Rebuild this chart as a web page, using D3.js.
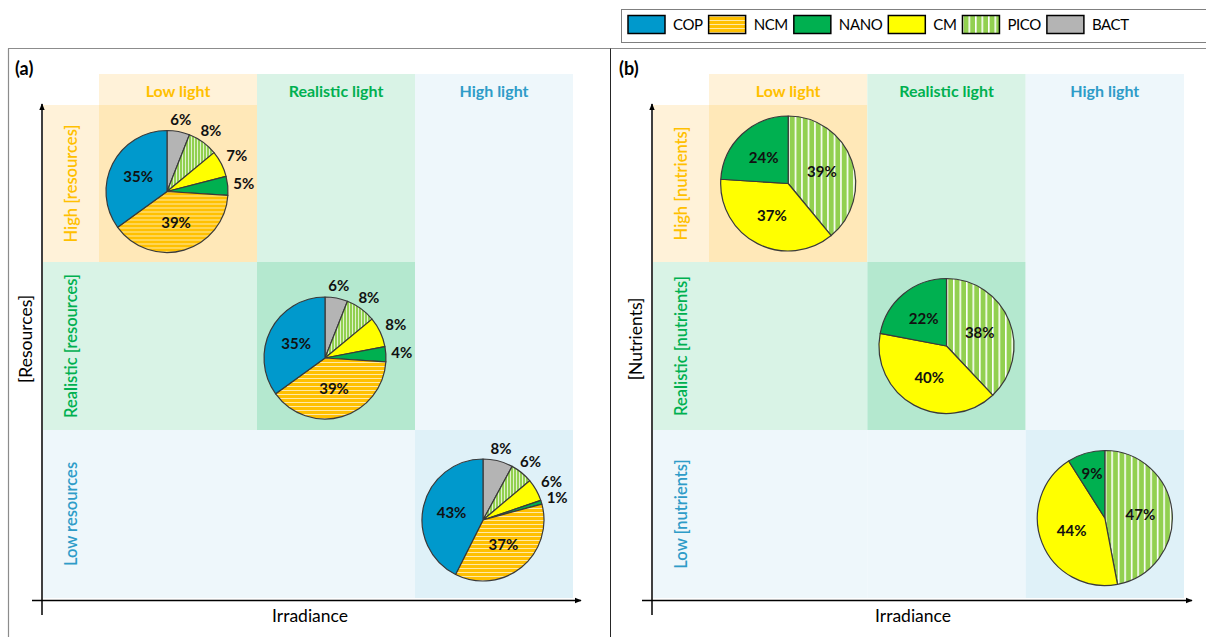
<!DOCTYPE html>
<html>
<head>
<meta charset="utf-8">
<script src="https://cdn.jsdelivr.net/npm/d3@7"></script>
<style>
  body { margin: 0; background: #fff; }
  text { font-family: Lato, "Open Sans", sans-serif; }
</style>
</head>
<body>
<svg id="chart" width="1206" height="637"></svg>
<script>
// ---- data ----
const groups = ["COP", "NCM", "NANO", "CM", "PICO", "BACT"];
const lightLevels = ["Low light", "Realistic light", "High light"];
const resourceLabels = ["High [resources]", "Realistic [resources]", "Low resources"];
const nutrientLabels = ["High [nutrients]", "Realistic [nutrients]", "Low [nutrients]"];

// slices listed clockwise from 12 o'clock
const sliceOrderA = ["BACT", "PICO", "CM", "NANO", "NCM", "COP"];
const resHigh = [6, 8, 7, 5, 39, 35];
const resRealistic = [6, 8, 8, 4, 39, 35];
const resLow = [8, 6, 6, 1, 37, 43];

const sliceOrderB = ["PICO", "CM", "NANO"];
const nutHigh = [39, 37, 24];
const nutRealistic = [38, 40, 22];
const nutLow = [47, 44, 9];

// ---- styling ----
const tint = [
  { light: "#fff2d9", dark: "#ffe8b8", text: "#ffc000" },
  { light: "#d9f3e6", dark: "#b4e8cf", text: "#00b050" },
  { light: "#eef7fb", dark: "#dff1f8", text: "#2e9cc8" }
];

const svg = d3.select("#chart");
const defs = svg.append("defs");

function stripePattern(id, base, w, h, vertical, lineW, op) {
  const p = defs.append("pattern").attr("id", id)
    .attr("patternUnits", "userSpaceOnUse").attr("width", w).attr("height", h);
  p.append("rect").attr("width", w).attr("height", h).attr("fill", base);
  if (vertical) {
    p.append("rect").attr("x", 0).attr("y", 0).attr("width", lineW).attr("height", h)
      .attr("fill", "#fff").attr("opacity", op);
  } else {
    p.append("rect").attr("x", 0).attr("y", 0).attr("width", w).attr("height", lineW)
      .attr("fill", "#fff").attr("opacity", op);
  }
}
stripePattern("ncm", "#ffc000", 4, 4, false, 1, 0.65);
stripePattern("picoFine", "#92d050", 3, 3, true, 1, 0.7);
stripePattern("picoWide", "#92d050", 6.5, 6.5, true, 1.6, 1);

const fillA = { COP: "#0099cc", NCM: "url(#ncm)", NANO: "#00b050", CM: "#ffff00", PICO: "url(#picoFine)", BACT: "#b4b4b4" };
const fillB = { COP: "#0099cc", NCM: "url(#ncm)", NANO: "#00b050", CM: "#ffff00", PICO: "url(#picoWide)", BACT: "#b4b4b4" };

// arrow marker
defs.append("marker").attr("id", "arrow").attr("viewBox", "0 0 10 10")
  .attr("refX", 9).attr("refY", 5).attr("markerWidth", 7).attr("markerHeight", 7)
  .attr("markerUnits", "userSpaceOnUse").attr("orient", "auto")
  .append("path").attr("d", "M0,1 L10,5 L0,9 Z").attr("fill", "#000");

// ---- frame ----
svg.append("line").attr("x1", 8).attr("x2", 1206).attr("y1", 48.5).attr("y2", 48.5)
  .attr("stroke", "#8c8c8c").attr("stroke-width", 1.2);
svg.append("line").attr("x1", 8.5).attr("x2", 8.5).attr("y1", 48.5).attr("y2", 637)
  .attr("stroke", "#8c8c8c").attr("stroke-width", 1.2);
svg.append("line").attr("x1", 610.5).attr("x2", 610.5).attr("y1", 48.5).attr("y2", 637)
  .attr("stroke", "#262626").attr("stroke-width", 1);

// ---- legend ----
const legend = svg.append("g");
legend.append("rect").attr("x", 621.5).attr("y", 9.5).attr("width", 600).attr("height", 33)
  .attr("fill", "#fff").attr("stroke", "#7f7f7f").attr("stroke-width", 1);
let lx = 628;
groups.forEach(g => {
  legend.append("rect").attr("x", lx).attr("y", 15.5).attr("width", 37).attr("height", 18)
    .attr("fill", fillB[g]).attr("stroke", "#000").attr("stroke-width", 1.5);
  const t = legend.append("text").attr("x", lx + 45).attr("y", 25).attr("dy", "0.35em")
    .attr("font-size", 15).attr("letter-spacing", -0.4).attr("fill", "#000").text(g);
  lx = lx + 45 + t.node().getComputedTextLength() + 6;
});

// ---- panels ----
function drawPanel(opt) {
  const g = svg.append("g");
  const x = d3.scaleBand().domain(lightLevels).range([opt.x0, opt.x1]);
  const y = d3.scaleBand().domain(opt.rowLabels).range([94, 598]);
  const headerTop = 74, headerBottom = 105;
  const bandLeft = opt.x0 - 56;

  // column header band
  g.selectAll(".colhead").data(lightLevels).join("rect")
    .attr("x", d => x(d)).attr("y", headerTop)
    .attr("width", x.bandwidth()).attr("height", headerBottom - headerTop)
    .attr("fill", (d, i) => tint[i].light);
  // row header band
  g.selectAll(".rowhead").data(opt.rowLabels).join("rect")
    .attr("x", bandLeft).attr("y", d => Math.max(y(d), headerBottom))
    .attr("width", opt.x0 - bandLeft)
    .attr("height", d => y(d) + y.bandwidth() - Math.max(y(d), headerBottom))
    .attr("fill", (d, i) => tint[i].light);
  // grid cells
  const cells = [];
  opt.rowLabels.forEach((r, ri) => lightLevels.forEach((c, ci) => cells.push({ r, c, ri, ci })));
  g.selectAll(".cell").data(cells).join("rect")
    .attr("x", d => x(d.c)).attr("y", d => Math.max(y(d.r), headerBottom))
    .attr("width", x.bandwidth())
    .attr("height", d => y(d.r) + y.bandwidth() - Math.max(y(d.r), headerBottom))
    .attr("fill", d => {
      const k = Math.max(d.ri, d.ci);
      return d.ri === d.ci ? tint[k].dark : tint[k].light;
    });

  // header texts
  g.selectAll(".coltxt").data(lightLevels).join("text")
    .attr("x", d => x(d) + x.bandwidth() / 2).attr("y", 91).attr("dy", "0.35em")
    .attr("text-anchor", "middle").attr("font-size", 16).attr("font-weight", 700)
    .attr("fill", (d, i) => tint[i].text).text(d => d);
  g.selectAll(".rowtxt").data(opt.rowLabels).join("text")
    .attr("transform", d => {
      const top = Math.max(y(d), headerBottom);
      const cy = (top + y(d) + y.bandwidth()) / 2;
      return `translate(${bandLeft + 28},${cy}) rotate(-90)`;
    })
    .attr("dy", "0.35em").attr("text-anchor", "middle")
    .attr("font-size", 16.5).attr("font-weight", 600)
    .attr("fill", (d, i) => tint[i].text).text(d => d);

  // axes
  g.append("line").attr("x1", bandLeft - 1).attr("x2", bandLeft - 1)
    .attr("y1", 615).attr("y2", 104)
    .attr("stroke", "#000").attr("stroke-width", 1.5).attr("marker-end", "url(#arrow)");
  g.append("line").attr("x1", bandLeft - 11).attr("x2", opt.x1 + 8)
    .attr("y1", 600.5).attr("y2", 600.5)
    .attr("stroke", "#000").attr("stroke-width", 1.5).attr("marker-end", "url(#arrow)");
  g.append("text").attr("x", bandLeft + opt.titleShift).attr("y", 616).attr("dy", "0.35em")
    .attr("text-anchor", "middle").attr("font-size", 17.5).attr("fill", "#000").text("Irradiance");
  g.append("text").attr("transform", `translate(${bandLeft - 17},339) rotate(-90)`)
    .attr("dy", "0.35em").attr("text-anchor", "middle")
    .attr("font-size", 17.5).attr("fill", "#000").text(opt.yTitle);
  g.append("text").attr("x", opt.tagX).attr("y", 69).attr("dy", "0.35em")
    .attr("font-size", 18).attr("font-weight", 700).attr("fill", "#000").text(opt.tag);

  // pies on the diagonal
  const pie = d3.pie().sort(null).value(d => d.v);
  const arc = d3.arc().innerRadius(0).outerRadius(opt.r);
  opt.pies.forEach((vals, i) => {
    const rowKey = opt.rowLabels[i];
    const top = Math.max(y(rowKey), headerBottom);
    const cx = x(lightLevels[i]) + x.bandwidth() / 2 + opt.dx;
    const cy = (top + y(rowKey) + y.bandwidth()) / 2 + opt.dy[i];
    const pg = g.append("g").attr("transform", `translate(${cx},${cy})`);
    const arcs = pie(opt.order.map((k, j) => ({ k, v: vals[j] })));
    pg.selectAll("path").data(arcs).join("path")
      .attr("d", arc).attr("fill", d => opt.fill[d.data.k])
      .attr("stroke", "#3a3a3a").attr("stroke-width", 1.2).attr("stroke-linejoin", "round");
    pg.selectAll("text").data(arcs).join("text")
      .attr("transform", d => {
        const a = (d.startAngle + d.endAngle) / 2;
        const sx = Math.sin(a), cyv = -Math.cos(a);
        let dist;
        if (d.data.v >= opt.insideMin) {
          dist = opt.r * (d.data.v < 15 ? 0.68 : opt.inner);
        } else {
          const hw = 11, hh = 7;
          dist = opt.r + 5 + Math.min(hw / Math.max(Math.abs(sx), 1e-3), hh / Math.max(Math.abs(cyv), 1e-3));
        }
        return `translate(${sx * dist},${cyv * dist})`;
      })
      .attr("dy", "0.35em").attr("text-anchor", "middle")
      .attr("font-size", 15).attr("font-weight", 700).attr("fill", "#111")
      .text(d => d.data.v + "%");
  });
}

drawPanel({
  x0: 99, x1: 573, rowLabels: resourceLabels, yTitle: "[Resources]", tag: "(a)", tagX: 15,
  titleShift: 267, r: 61, dx: -11, dy: [8, 12, 6], inner: 0.53, insideMin: 20,
  order: sliceOrderA, fill: fillA, pies: [resHigh, resRealistic, resLow]
});
drawPanel({
  x0: 709, x1: 1184, rowLabels: nutrientLabels, yTitle: "[Nutrients]", tag: "(b)", tagX: 619,
  titleShift: 260, r: 67.5, dx: 0, dy: [0, 0, 4], inner: 0.53, insideMin: 0,
  order: sliceOrderB, fill: fillB, pies: [nutHigh, nutRealistic, nutLow]
});
</script>
</body>
</html>
